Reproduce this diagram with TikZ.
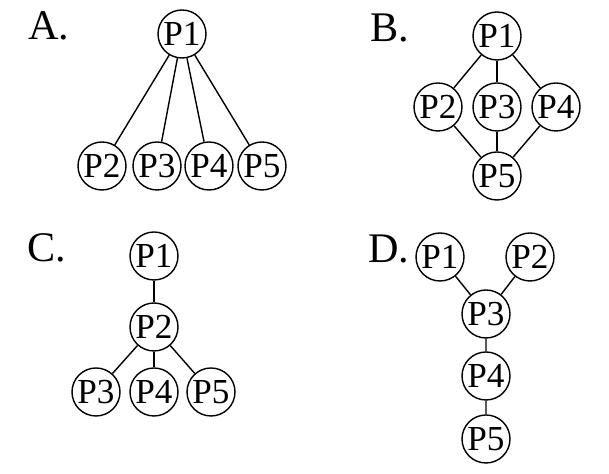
\documentclass[tikz,border=0pt]{standalone}
\usepackage{fontspec}
\setmainfont{Liberation Serif}
\usepackage{tikz}
\usetikzlibrary{positioning}

\begin{document}
\begin{tikzpicture}[
    proc/.style={circle, draw, line width=0.8pt, minimum size=0.96cm, inner sep=0pt, font=\fontsize{20}{22}\selectfont},
    optlabel/.style={anchor=base west, inner sep=0pt, font=\fontsize{24}{28}\selectfont},
    link/.style={line width=0.8pt}]
        \useasboundingbox (0,0) rectangle (12.18,9.48);
        % Option A: star
        \node[optlabel] (labA) at (0.56,8.68) {A.};
        \node[proc] (a1) at (3.64,8.80) {P1};
        \node[proc] (a2) at (2.04,6.16) {P2};
        \node[proc] (a3) at (3.14,6.16) {P3};
        \node[proc] (a4) at (4.18,6.16) {P4};
        \node[proc] (a5) at (5.24,6.16) {P5};
        \foreach \n in {a2,a3,a4,a5}
          \draw[link] (a1) -- (\n);
        % Option B: diamond
        \node[optlabel] (labB) at (7.40,8.64) {B.};
        \node[proc] (b1) at (9.94,8.76) {P1};
        \node[proc] (b2) at (8.76,7.34) {P2};
        \node[proc] (b3) at (9.94,7.34) {P3};
        \node[proc] (b4) at (11.12,7.34) {P4};
        \node[proc] (b5) at (9.94,5.96) {P5};
        \foreach \n in {b2,b3,b4}
          \draw[link] (b1) -- (\n) -- (b5);
        % Option C: chain then fan
        \node[optlabel] (labC) at (0.54,4.24) {C.};
        \node[proc] (c1) at (3.08,4.36) {P1};
        \node[proc] (c2) at (3.08,2.94) {P2};
        \node[proc] (c3) at (1.92,1.64) {P3};
        \node[proc] (c4) at (3.08,1.64) {P4};
        \node[proc] (c5) at (4.22,1.64) {P5};
        \draw[link] (c1) -- (c2);
        \foreach \n in {c3,c4,c5}
          \draw[link] (c2) -- (\n);
        % Option D: merge then chain
        \node[optlabel] (labD) at (7.36,4.22) {D.};
        \node[proc] (d1) at (8.80,4.34) {P1};
        \node[proc] (d2) at (10.60,4.34) {P2};
        \node[proc] (d3) at (9.72,3.20) {P3};
        \node[proc] (d4) at (9.72,1.96) {P4};
        \node[proc] (d5) at (9.72,0.70) {P5};
        \draw[link] (d1) -- (d3);
        \draw[link] (d2) -- (d3) -- (d4) -- (d5);
      \end{tikzpicture}
\end{document}
